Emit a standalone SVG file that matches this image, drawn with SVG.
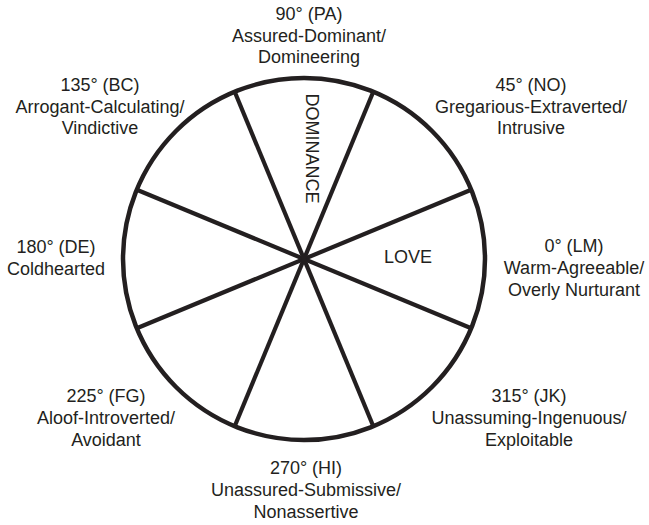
<svg xmlns="http://www.w3.org/2000/svg" width="649" height="525" viewBox="0 0 649 525">
<style>
.lbl{font-family:"Liberation Sans",Arial,sans-serif;font-size:18px;fill:#231f20;text-anchor:middle}
.axis{font-family:"Liberation Sans",Arial,sans-serif;font-size:18px;fill:#231f20}
.rim{fill:#fff;stroke:#231f20;stroke-width:4.5}
.spoke{stroke:#231f20;stroke-width:4.2;stroke-linecap:butt}
</style>
<rect width="649" height="525" fill="#fff"/>
<g id="circle">
<circle class="rim" cx="304" cy="259" r="181"/>
</g>
<g id="connectors">
<line class="spoke" x1="471.2" y1="189.7" x2="136.8" y2="328.3"/>
<line class="spoke" x1="471.2" y1="328.3" x2="136.8" y2="189.7"/>
<line class="spoke" x1="373.3" y1="91.8" x2="234.7" y2="426.2"/>
<line class="spoke" x1="234.7" y1="91.8" x2="373.3" y2="426.2"/>
</g>
<g id="axis-dominance"><text class="axis" transform="translate(305.5,93.5) rotate(90)">DOMINANCE</text></g>
<g id="axis-love"><text class="axis" x="384" y="262.5">LOVE</text></g>
<g id="node-90"><text class="lbl" x="309" y="20">90° (PA)<tspan x="309" y="41.5">Assured-Dominant/</tspan><tspan x="309" y="63">Domineering</tspan></text></g>
<g id="node-135"><text class="lbl" x="100" y="91">135° (BC)<tspan x="100" y="112.5">Arrogant-Calculating/</tspan><tspan x="100" y="134">Vindictive</tspan></text></g>
<g id="node-45"><text class="lbl" x="531" y="91">45° (NO)<tspan x="531" y="112.5">Gregarious-Extraverted/</tspan><tspan x="531" y="134">Intrusive</tspan></text></g>
<g id="node-180"><text class="lbl" x="56" y="253">180° (DE)<tspan x="56" y="275">Coldhearted</tspan></text></g>
<g id="node-0"><text class="lbl" x="574" y="251.5">0° (LM)<tspan x="574" y="273.5">Warm-Agreeable/</tspan><tspan x="574" y="295.5">Overly Nurturant</tspan></text></g>
<g id="node-225"><text class="lbl" x="106" y="402">225° (FG)<tspan x="106" y="424">Aloof-Introverted/</tspan><tspan x="106" y="446">Avoidant</tspan></text></g>
<g id="node-315"><text class="lbl" x="529" y="402">315° (JK)<tspan x="529" y="424">Unassuming-Ingenuous/</tspan><tspan x="529" y="446">Exploitable</tspan></text></g>
<g id="node-270"><text class="lbl" x="306" y="474">270° (HI)<tspan x="306" y="496">Unassured-Submissive/</tspan><tspan x="306" y="518">Nonassertive</tspan></text></g>
</svg>
